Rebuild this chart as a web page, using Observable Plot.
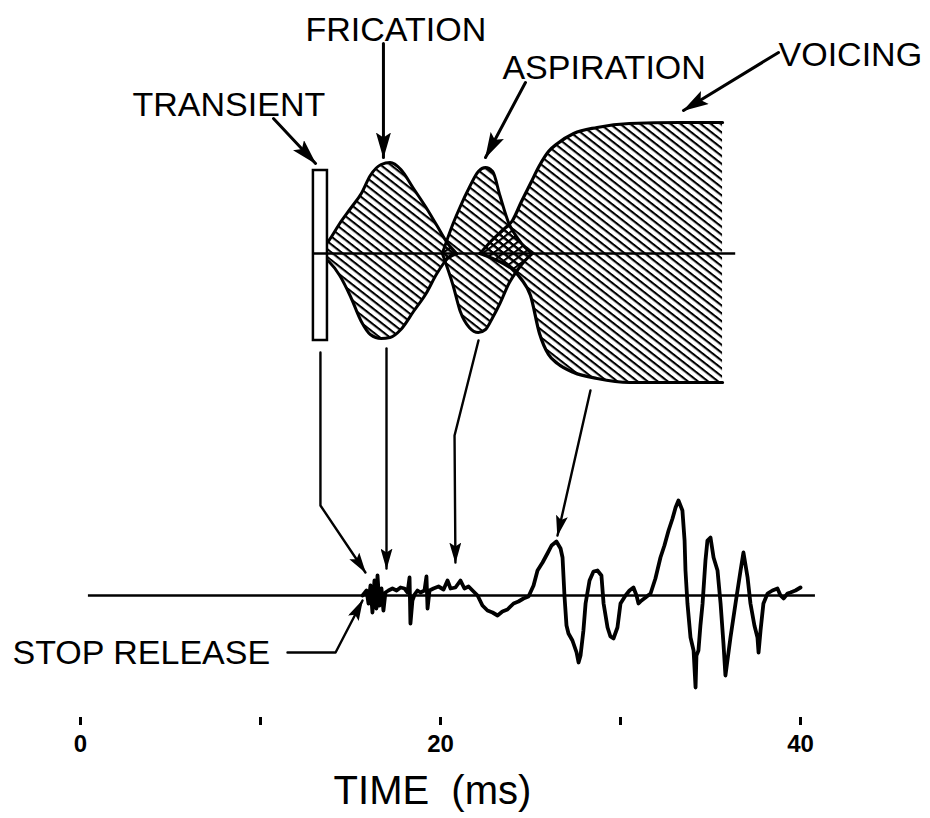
<!DOCTYPE html>
<html>
<head>
<meta charset="utf-8">
<script src="https://cdn.jsdelivr.net/npm/d3@7"></script>
<script src="https://cdn.jsdelivr.net/npm/@observablehq/plot@0.6"></script>
<style>
  html, body { margin: 0; padding: 0; background: #fff; }
  #chart svg g[aria-label*="x-axis"] text { font-size: 24px !important; font-weight: bold; font-family: "Liberation Sans", Arial, Helvetica, sans-serif; fill: #000; }
  #chart svg g[aria-label*="x-axis"] line, #chart svg g[aria-label*="x-axis"] path { stroke-width: 3px; stroke: #000; }
</style>
</head>
<body>
<div id="chart"></div>
<script>
// ---------- data (time in ms, amplitudes in arbitrary units) ----------
const ENV_BASE = 342;       // level of the envelope diagram's zero line
const WAVE_BASE = 0;        // level of the waveform's zero line

const fricT     = [13.05, 13.8, 14.4, 15.0, 15.6, 16.1, 16.7, 17.2, 17.8, 18.5, 19.2, 19.8, 20.4, 20.9];
const fricUpper = [0, 13, 30, 45, 60, 78, 89, 91, 84, 65, 46, 28, 10, 0];
const fricLower = [0, 8, 22, 43, 68, 81, 85, 84, 76, 58, 40, 20, 5, 0];

const aspT      = [20.1, 20.7, 21.1, 21.6, 22.1, 22.5, 22.9, 23.3, 23.8, 24.3, 24.7, 25.1];
const aspUpper  = [0, 30, 47, 66, 82, 86, 82, 58, 30, 15, 6, 0];
const aspLower  = [0, 32, 58, 74, 79, 76, 64, 50, 30, 16, 7, 0];

const voiT      = [22.2, 22.9, 23.5, 24.0, 24.5, 25.0, 25.5, 26.0, 26.5, 27.4, 28.7, 30.5, 33.3, 35.67];
const voiUpper  = [0, 14, 24, 33, 52, 70, 88, 102, 110, 120, 126, 130, 131, 131];
const voiLower  = [0, 5, 10, 16, 26, 42, 80, 101, 110, 119, 125, 129, 129, 129];

const transientT = [12.94, 13.72];
const transientAmp = [83, 87]; // up, down

const waveT = [15.67,15.89,16.00,16.11,16.22,16.33,16.44,16.50,16.61,16.72,16.83,16.94,17.11,17.33,17.56,17.78,18.00,18.17,18.28,18.33,18.44,18.56,18.72,18.89,19.11,19.22,19.28,19.39,19.61,19.89,20.17,20.39,20.56,20.83,21.11,21.33,21.56,21.78,22.06,22.33,22.61,22.89,23.17,23.44,23.72,24.06,24.33,24.61,24.89,25.17,25.39,25.67,25.94,26.17,26.44,26.67,26.78,26.89,27.00,27.11,27.33,27.56,27.67,27.78,27.94,28.06,28.28,28.50,28.72,28.94,29.06,29.28,29.44,29.61,29.83,30.00,30.28,30.50,30.72,30.89,31.00,31.17,31.39,31.67,31.94,32.22,32.44,32.67,32.89,33.06,33.22,33.44,33.56,33.61,33.72,33.89,34.06,34.17,34.22,34.33,34.44,34.56,34.72,34.83,35.00,35.17,35.39,35.56,35.72,35.83,35.94,36.11,36.39,36.67,36.83,37.06,37.22,37.44,37.61,37.67,37.78,37.94,38.17,38.44,38.72,38.89,39.06,39.28,39.44,39.72,40.00];
const waveAmp = [0,5,-8,10,-17,15,-13,20,-10,7,-15,3,5,7,5,8,7,3,18,-28,-5,1,5,3,5,19,-13,5,7,9,6,15,7,8,15,7,9,5,0,-10,-15,-17,-20,-16,-14,-8,-6,-3,-1,10,25,33,42,50,54,47,38,-1,-30,-38,-45,-57,-67,-60,-35,-8,15,24,25,20,-8,-32,-41,-43,-32,-8,0,5,8,0,-8,-5,-2,2,17,38,50,65,77,88,95,85,55,25,-8,-42,-55,-92,-60,-55,-30,-8,35,55,58,38,25,-8,-48,-80,-65,-42,-8,25,43,18,-8,-30,-42,-57,-35,-8,2,5,7,0,-3,2,3,5,8];

const tickValues = [0, 10, 20, 30, 40];
const tickLabels = ["0", "", "20", "", "40"];

const labelText = ["TRANSIENT", "FRICATION", "ASPIRATION", "VOICING", "STOP RELEASE"];
const labelT    = [2.89, 12.5, 23.44, 38.78, -3.78];
const labelV    = [480, 555, 517, 530, -68];

const axisTitle = "TIME  (ms)";

// annotation arrows (time, level)
const bigArrows = [
  {id: "transient", t: 10.72, v: 477}, {id: "transient", t: 13.06, v: 432},
  {id: "frication", t: 16.83, v: 552}, {id: "frication", t: 16.83, v: 438},
  {id: "aspiration", t: 24.72, v: 513}, {id: "aspiration", t: 22.5, v: 438},
  {id: "voicing", t: 38.78, v: 543}, {id: "voicing", t: 33.5, v: 485}
];
const smallArrows = [
  {id: "t", t: 13.33, v: 243}, {id: "t", t: 13.33, v: 90}, {id: "t", t: 15.83, v: 23},
  {id: "f", t: 17.0, v: 247}, {id: "f", t: 17.0, v: 27},
  {id: "a", t: 22.11, v: 255}, {id: "a", t: 20.78, v: 160}, {id: "a", t: 20.83, v: 33},
  {id: "v", t: 28.33, v: 205}, {id: "v", t: 26.5, v: 60},
  {id: "s", t: 11.5, v: -57}, {id: "s", t: 14.17, v: -57}, {id: "s", t: 15.67, v: -5}
];

// ---------- chart ----------
const FONT = "'Liberation Sans', Arial, Helvetica, sans-serif";
const up = (arr) => arr.map(a => ENV_BASE + a);
const dn = (arr) => arr.map(a => ENV_BASE - a);
const BIG = "#010101", SMALL = "#020202";

const chart = Plot.plot({
  width: 930,
  height: 818,
  marginTop: 0, marginLeft: 0, marginRight: 0, marginBottom: 101,
  style: {fontFamily: FONT, fontSize: "22px", background: "#fff", color: "#000", overflow: "visible"},
  x: {domain: [0, 40], range: [80, 800], ticks: tickValues, tickFormat: d => tickLabels[tickValues.indexOf(d)], tickSize: 8, tickPadding: 9, label: null},
  y: {domain: [-223, 595], range: [818, 0], axis: null},
  marks: [
    Plot.areaY(fricT, {x: fricT, y1: dn(fricLower), y2: up(fricUpper), fill: "url(#hatchF)", curve: "monotone-x"}),
    Plot.areaY(aspT, {x: aspT, y1: dn(aspLower), y2: up(aspUpper), fill: "url(#hatchS)", curve: "monotone-x"}),
    Plot.areaY(voiT, {x: voiT, y1: dn(voiLower), y2: up(voiUpper), fill: "url(#hatchV)", curve: "monotone-x"}),
    Plot.line(fricT, {x: fricT, y: up(fricUpper), curve: "monotone-x", stroke: "#000", strokeWidth: 3}),
    Plot.line(fricT, {x: fricT, y: dn(fricLower), curve: "monotone-x", stroke: "#000", strokeWidth: 3}),
    Plot.line(aspT, {x: aspT, y: up(aspUpper), curve: "monotone-x", stroke: "#000", strokeWidth: 3}),
    Plot.line(aspT, {x: aspT, y: dn(aspLower), curve: "monotone-x", stroke: "#000", strokeWidth: 3}),
    Plot.line(voiT, {x: voiT, y: up(voiUpper), curve: "monotone-x", stroke: "#000", strokeWidth: 3.2}),
    Plot.line(voiT, {x: voiT, y: dn(voiLower), curve: "monotone-x", stroke: "#000", strokeWidth: 3.2}),
    Plot.rect([0], {x1: [transientT[0]], x2: [transientT[1]], y1: [ENV_BASE - transientAmp[1]], y2: [ENV_BASE + transientAmp[0]], fill: "#fff", stroke: "#000", strokeWidth: 2.5}),
    Plot.ruleY([0], {y: [ENV_BASE], x1: [transientT[0]], x2: [36.4], stroke: "#000", strokeWidth: 2.5}),
    Plot.line(bigArrows, {x: "t", y: "v", z: "id", stroke: BIG, strokeWidth: 3}),
    Plot.line(smallArrows, {x: "t", y: "v", z: "id", stroke: SMALL, strokeWidth: 2.4}),
    Plot.ruleY([0], {y: [WAVE_BASE], x1: [0.44], x2: [40.83], stroke: "#000", strokeWidth: 2.5}),
    Plot.line(waveT, {x: waveT, y: waveAmp.map(a => WAVE_BASE + a), stroke: "#000", strokeWidth: 3.8, strokeLinejoin: "round"}),
    Plot.text(labelText, {x: labelT, y: labelV, text: d => d, textAnchor: "start", lineAnchor: "bottom", fontSize: 34, fontFamily: FONT, fill: "#000"}),
    Plot.text([axisTitle], {x: [14.06], y: [-208], text: d => d, textAnchor: "start", lineAnchor: "bottom", fontSize: 40, fontFamily: FONT, fill: "#000"})
  ]
});

document.getElementById("chart").appendChild(chart);

// ---------- hatch patterns, arrowheads and cross-hatched overlaps ----------
const ns = "http://www.w3.org/2000/svg";
const svg = chart.tagName.toLowerCase() === "svg" ? chart : chart.querySelector("svg");
function el(tag, attrs, parent) {
  const e = document.createElementNS(ns, tag);
  for (const k in attrs) e.setAttribute(k, attrs[k]);
  if (parent) parent.appendChild(e);
  return e;
}
const defs = el("defs", {});
svg.insertBefore(defs, svg.firstChild);
function hatch(id, angle) {
  const p = el("pattern", {id, patternUnits: "userSpaceOnUse", width: 12, height: 6.2, patternTransform: `rotate(${angle})`}, defs);
  el("rect", {x: 0, y: 0, width: 12, height: 2.1, fill: "#000"}, p);
}
hatch("hatchF", 38); hatch("hatchS", 38); hatch("hatchV", 38); hatch("hatchX", -38);
function head(id, L, W, notch) {
  const m = el("marker", {id, viewBox: `0 0 ${L} ${W}`, markerWidth: L, markerHeight: W, refX: L - 1, refY: W / 2, orient: "auto", markerUnits: "userSpaceOnUse"}, defs);
  el("path", {d: `M0,0 L${L},${W / 2} L0,${W} L${notch},${W / 2} Z`, fill: "#000"}, m);
}
head("headBig", 26, 15, 5);
head("headSmall", 21, 12, 4);

svg.querySelectorAll(`g[stroke="${BIG}"] path`).forEach(p => p.setAttribute("marker-end", "url(#headBig)"));
svg.querySelectorAll(`g[stroke="${SMALL}"] path`).forEach(p => p.setAttribute("marker-end", "url(#headSmall)"));

function crossHatch(baseFill, clipFill, id) {
  const base = svg.querySelector(`g[fill="url(#${baseFill})"] path`);
  const other = svg.querySelector(`g[fill="url(#${clipFill})"] path`);
  if (!base || !other) return;
  const cp = el("clipPath", {id}, defs);
  el("path", {d: other.getAttribute("d")}, cp);
  const clone = base.cloneNode();
  clone.setAttribute("fill", "url(#hatchX)");
  clone.setAttribute("clip-path", `url(#${id})`);
  base.parentNode.appendChild(clone);
}
crossHatch("hatchS", "hatchF", "clipFric");
crossHatch("hatchS", "hatchV", "clipVoi");
</script>
</body>
</html>
